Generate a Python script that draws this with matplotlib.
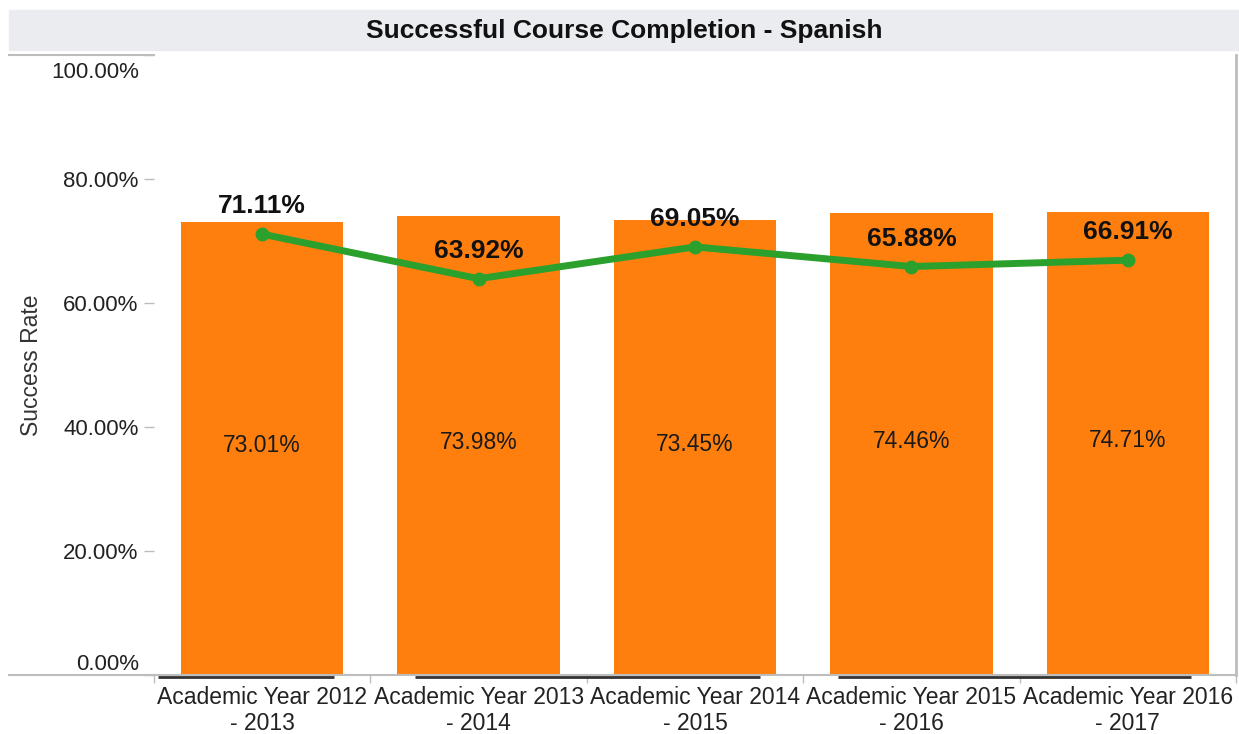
import numpy as np
import matplotlib.pyplot as plt
from matplotlib.patches import Rectangle
from matplotlib.lines import Line2D
from matplotlib.transforms import ScaledTranslation

plt.rcParams['font.family'] = ['Liberation Sans', 'DejaVu Sans']

years = ["Academic Year 2012\n- 2013", "Academic Year 2013\n- 2014",
         "Academic Year 2014\n- 2015", "Academic Year 2015\n- 2016",
         "Academic Year 2016\n- 2017"]
overall_rate = [73.01, 73.98, 73.45, 74.46, 74.71]
spanish_rate = [71.11, 63.92, 69.05, 65.88, 66.91]

orange = "#ff7f0e"
green = "#2ca02c"
grey = "#bdbdbd"

fig = plt.figure(figsize=(12.39, 7.34), dpi=100)
ax = fig.add_axes([154 / 1239, 59 / 734, 1082 / 1239, 620 / 734])

x = np.arange(len(years))
bars = ax.bar(x, overall_rate, width=0.75, color=orange, zorder=2)
ax.plot(x, spanish_rate, color=green, linewidth=5, marker="o",
        markersize=9, zorder=3)

for b, v in zip(bars, overall_rate):
    ax.text(b.get_x() + b.get_width() / 2, v / 2 + 0.5, f"{v:.2f}%",
            ha="center", va="center", fontsize=16.5, color="#1a1a1a", zorder=4)

for xi, v in zip(x, spanish_rate):
    ax.annotate(f"{v:.2f}%", (xi, v), xytext=(0, 20), textcoords="offset points",
                ha="center", va="center", fontsize=19, fontweight="bold",
                color="#111111", zorder=4)

ax.set_xlim(-0.5, len(years) - 0.5)
ax.set_ylim(0, 100)
ax.set_yticks([0, 20, 40, 60, 80, 100])
ax.set_yticklabels([f"{t:.2f}%" for t in [0, 20, 40, 60, 80, 100]], fontsize=16,
                   color="#222222")
ax.tick_params(axis="y", length=7, width=1, color=grey, pad=4)
ticklabels = ax.get_yticklabels()
ticklabels[0].set_va("bottom")
ticklabels[-1].set_va("top")
ticklabels[-1].set_transform(ticklabels[-1].get_transform() +
                             ScaledTranslation(0, -0.065, fig.dpi_scale_trans))

ax.set_xticks(x)
ax.set_xticklabels(years, fontsize=16.5, color="#222222", linespacing=1.15)
ax.set_xticks(np.arange(len(years) + 1) - 0.5, minor=True)
ax.tick_params(axis="x", which="major", length=0, pad=8)
ax.tick_params(axis="x", which="minor", length=6, width=1, color=grey)

ax.set_ylabel("Success Rate", fontsize=16.5, color="#333333")
ax.yaxis.set_label_coords(-0.103, 0.5)

for s in ["left", "top"]:
    ax.spines[s].set_visible(False)
ax.spines["bottom"].set_color(grey)
ax.spines["bottom"].set_linewidth(1.5)
ax.spines["right"].set_color(grey)
ax.spines["right"].set_linewidth(2)

# dark underline strokes beneath the category headers
for x0, x1 in [(-0.48, 0.33), (0.705, 2.30), (2.66, 4.29)]:
    ax.plot([x0, x1], [-0.35, -0.35], color="#333333", linewidth=2,
            clip_on=False, zorder=5, solid_capstyle="butt")

# title bar and left column rules
fig.patches.append(Rectangle((9 / 1239, 684 / 734), 1230 / 1239, 40 / 734,
                             transform=fig.transFigure, color="#ebecf0", zorder=0))
fig.text(624 / 1239, 703 / 734, "Successful Course Completion - Spanish",
         ha="center", va="center", fontsize=19, fontweight="bold", color="#111111")
fig.lines.append(Line2D([9 / 1239, 154 / 1239], [679 / 734, 679 / 734],
                        transform=fig.transFigure, color=grey, linewidth=1.5))
fig.lines.append(Line2D([9 / 1239, 154 / 1239], [59 / 734, 59 / 734],
                        transform=fig.transFigure, color=grey, linewidth=1.5))

fig.savefig("out.png", dpi=100)
